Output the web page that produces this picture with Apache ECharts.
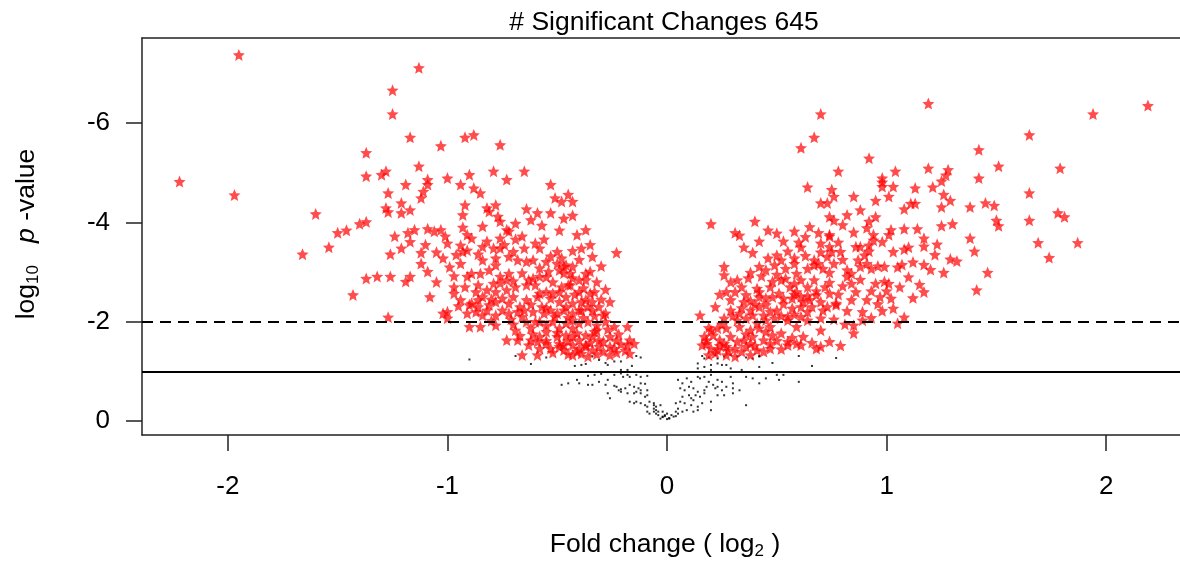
<!DOCTYPE html>
<html>
<head>
<meta charset="utf-8">
<script src="https://cdn.jsdelivr.net/npm/echarts@6/dist/echarts.min.js"></script>
<style>
html, body { margin: 0; padding: 0; background: #fff; }
#chart { width: 1180px; height: 563px; }
</style>
</head>
<body>
<div id="chart"></div>
<script>
// volcano plot: fold change (log2) vs log10 p-value
const titleText = '# Significant Changes 645';
const xTicks = [-2, -1, 0, 1, 2];
const yTicks = [-6, -4, -2, 0];
const dashedCut = -2;
const solidCut = -1;

// significant, negative fold change
const sigDown = [
  [-1.95,-7.37],[-1.25,-6.66],[-1.25,-6.18],[-1.37,-5.40],[-2.22,-4.82],[-1.37,-4.93],[-1.30,-4.96],[-1.28,-5.03],[-1.97,-4.55],[-1.27,-4.59],
  [-1.28,-4.29],[-1.27,-4.21],[-1.60,-4.17],[-1.40,-3.97],[-1.37,-4.01],[-1.50,-3.79],[-1.46,-3.84],[-1.24,-3.72],[-1.54,-3.50],[-1.66,-3.36],
  [-1.26,-3.36],[-1.37,-2.87],[-1.32,-2.91],[-1.26,-2.91],[-1.43,-2.54],[-1.27,-2.09],
  [-1.13,-7.11],[-1.17,-5.71],[-1.03,-5.54],[-0.92,-5.71],[-0.88,-5.76],[-0.76,-5.56],[-1.13,-5.13],[-1.19,-4.76],[-1.09,-4.86],[-1.09,-4.76],
  [-1.11,-4.62],[-1.12,-4.49],[-1.00,-4.89],[-0.94,-4.76],[-0.90,-4.96],[-0.88,-4.69],[-0.85,-4.59],[-0.79,-5.03],[-0.73,-4.86],[-0.65,-5.03],
  [-0.53,-4.76],[-0.51,-4.49],[-0.48,-4.42],[-0.45,-4.56],[-0.43,-4.42],[-1.21,-4.39],[-1.21,-4.19],[-1.17,-4.25],[-0.92,-4.35],[-0.93,-4.15],
  [-0.82,-4.29],[-0.81,-4.22],[-0.78,-4.35],[-0.77,-4.12],[-0.76,-4.02],[-0.64,-4.27],[-0.59,-4.19],[-0.53,-4.19],[-0.43,-4.14],[-0.57,-3.94],
  [-0.49,-3.84],[-0.41,-3.75],[-1.09,-3.87],[-1.06,-3.82],[-1.03,-3.85],[-0.93,-3.90],[-0.91,-3.75],[-1.18,-3.79],[-0.73,-3.85],[-0.72,-3.82],
  [-0.66,-3.72],[-0.76,-3.68],
  [-1.17,-3.61],[-1.00,-3.58],[-0.94,-3.54],[-0.93,-3.41],[-0.89,-3.68],[-0.84,-3.51],[-0.79,-3.48],[-0.76,-3.48],[-0.70,-3.41],[-0.65,-3.48],
  [-0.60,-3.58],[-0.58,-3.48],[-0.50,-3.41],[-0.43,-3.43],[-0.34,-3.31],[-0.23,-3.39],[-1.12,-3.39],[-1.21,-3.48],
  [-1.12,-3.17],[-1.02,-3.28],[-0.94,-3.17],[-0.91,-3.44],[-0.84,-3.24],[-0.78,-3.28],[-0.78,-3.14],[-0.72,-3.31],[-0.68,-3.24],[-0.64,-3.21],
  [-0.61,-3.24],[-0.55,-3.21],[-0.50,-3.17],[-0.46,-3.14],[-0.43,-3.11],[-0.37,-2.97],[-0.35,-3.01],[-1.09,-3.01],
  [-1.17,-2.91],[-1.19,-2.81],[-0.91,-2.91],[-0.89,-2.97],[-0.85,-2.97],[-0.81,-3.04],[-0.76,-2.91],[-0.73,-2.84],[-0.72,-2.97],[-0.63,-2.84],
  [-0.61,-2.87],[-0.58,-2.91],[-0.54,-3.01],[-0.49,-3.04],[-0.44,-2.97],[-0.40,-2.84],[-0.37,-2.84],[-0.47,-3.11],[-0.45,-2.74],
  [-0.97,-2.57],[-0.94,-2.44],[-0.87,-2.60],[-0.82,-2.64],[-0.78,-2.60],[-0.73,-2.64],[-0.69,-2.70],[-0.64,-2.74],[-0.60,-2.74],[-0.55,-2.60],
  [-0.52,-2.57],[-0.44,-2.74],[-0.40,-2.60],[-0.35,-2.57],[-0.33,-2.60],[-0.86,-2.74],[-0.79,-2.77],[-0.58,-2.57],[-0.49,-2.60],
  [-0.89,-2.37],[-0.86,-2.44],[-0.84,-2.50],[-0.78,-2.40],[-0.75,-2.47],[-0.72,-2.37],[-0.67,-2.30],[-0.64,-2.44],[-0.59,-2.50],[-0.53,-2.47],
  [-0.49,-2.40],[-0.43,-2.37],[-0.39,-2.40],[-0.37,-2.44],[-0.34,-2.40],[-0.90,-2.34],[-0.81,-2.34],[-0.57,-2.30],[-0.46,-2.30],[-0.40,-2.23],
  [-1.02,-2.17],[-1.00,-2.20],[-0.87,-2.20],[-0.84,-2.13],[-0.78,-2.13],[-0.75,-2.23],[-0.68,-2.20],[-0.65,-2.23],[-0.61,-2.20],[-0.56,-2.17],
  [-0.50,-2.17],[-0.47,-2.23],[-0.43,-2.17],[-0.39,-2.23],[-0.34,-2.23],[-0.29,-2.13],[-0.28,-2.17],[-1.00,-2.07],[-0.91,-2.17],[-0.82,-2.23],
  [-0.72,-2.17],[-0.53,-2.23],
  [-0.90,-1.90],[-0.85,-1.90],[-0.78,-1.93],[-0.69,-1.83],[-0.58,-2.00],[-0.55,-1.93],[-0.52,-2.00],[-0.46,-1.97],[-0.43,-2.03],[-0.40,-1.97],
  [-0.36,-2.00],[-0.32,-1.93],[-0.28,-2.00],[-0.24,-1.90],[-0.18,-1.90],[-0.32,-1.83],[-0.43,-1.87],[-0.49,-1.87],[-0.64,-2.00],[-0.60,-2.00],
  [-0.73,-1.63],[-0.68,-1.63],[-0.62,-1.63],[-0.58,-1.70],[-0.55,-1.56],[-0.50,-1.70],[-0.46,-1.73],[-0.43,-1.70],[-0.40,-1.63],[-0.37,-1.73],
  [-0.34,-1.70],[-0.31,-1.63],[-0.26,-1.70],[-0.23,-1.63],[-0.17,-1.63],[-0.15,-1.56],[-0.59,-1.60],[-0.49,-1.56],[-0.37,-1.53],
  [-0.63,-1.53],[-0.58,-1.46],[-0.53,-1.46],[-0.49,-1.50],[-0.47,-1.53],[-0.43,-1.53],[-0.40,-1.46],[-0.37,-1.50],[-0.34,-1.43],[-0.31,-1.50],
  [-0.26,-1.50],[-0.24,-1.46],[-0.18,-1.53],[-0.17,-1.36],[-0.43,-1.33],[-0.39,-1.36],[-0.66,-1.33],[-0.59,-1.33],[-0.26,-1.33],[-0.36,-1.30],
  [-0.47,-1.43],
  [-0.55,-2.90],[-0.52,-2.80],[-0.48,-2.70],[-0.46,-2.50],[-0.42,-2.55],[-0.38,-2.68],[-0.36,-2.30],[-0.31,-2.30],[-0.30,-2.45],[-0.33,-2.12],
  [-0.38,-2.08],[-0.45,-2.08],[-0.51,-2.10],[-0.55,-2.28],[-0.62,-2.35],[-0.70,-2.50],[-0.66,-2.10],[-0.70,-1.95],[-0.62,-1.87],[-0.55,-1.80],
  [-0.50,-1.78],[-0.45,-1.62],[-0.41,-1.77],[-0.35,-1.58],[-0.33,-1.80],[-0.29,-1.60],[-0.27,-1.85],[-0.22,-1.75],[-0.21,-1.55],[-0.19,-1.42],
  [-0.23,-1.38],[-0.29,-1.40],[-0.32,-1.35],[-0.41,-1.40],[-0.45,-1.35],[-0.52,-1.38],[-0.55,-1.62],[-0.61,-1.75],[-0.67,-1.72],[-0.71,-2.05],
  [-0.80,-2.02],[-0.86,-2.30],[-0.95,-2.32],[-0.97,-2.70],[-1.05,-2.80],[-1.08,-2.50],[-0.99,-3.10],[-1.05,-3.40],[-0.96,-3.35],[-0.86,-3.36],
  [-0.82,-3.62],[-0.74,-3.55],[-0.69,-3.66],[-0.56,-3.66],[-0.53,-3.32],[-0.48,-3.28],[-0.40,-3.25],[-0.39,-3.48],[-0.30,-3.12],[-0.32,-2.80],
  [-0.28,-2.65],[-0.26,-2.40],[-0.43,-2.88],[-0.47,-2.98],[-0.58,-3.08],[-0.66,-2.98],[-0.70,-2.82],[-0.76,-2.78],[-0.80,-2.45],[-0.92,-2.70],
  [-0.97,-2.92],[-1.10,-3.55],[-1.15,-3.85],[-1.01,-3.72],[-0.84,-3.92],[-0.69,-3.98],[-0.62,-4.05],[-0.47,-4.08],[-0.35,-3.55],[-0.37,-3.85]
];

// significant, positive fold change
const sigUp = [
  [0.70,-6.18],[0.67,-5.71],[0.61,-5.50],[0.92,-5.29],[0.78,-5.03],[1.04,-5.03],[0.98,-4.89],[0.98,-4.81],[0.98,-4.72],[1.03,-4.72],
  [0.64,-4.71],[0.75,-4.66],[0.76,-4.52],[0.85,-4.52],[1.01,-4.52],[0.95,-4.44],[1.13,-4.69],[0.70,-4.39],[0.73,-4.39],[1.08,-4.27],
  [1.11,-4.38],[1.13,-4.38],[0.74,-4.11],[0.76,-4.04],[0.95,-4.11],[0.92,-4.02],[0.91,-3.89],[0.20,-3.97],[0.40,-4.02],[0.46,-3.84],
  [0.31,-3.79],[0.33,-3.74],[0.58,-3.82],[0.65,-3.91],[0.69,-3.79],[0.74,-3.75],[0.74,-3.72],[1.01,-3.75],[1.08,-3.87],[1.14,-3.87],
  [0.94,-3.75],[0.63,-3.71],
  [1.19,-6.39],[1.94,-6.18],[2.19,-6.35],[1.65,-5.76],[1.42,-5.46],[1.19,-5.09],[1.28,-5.06],[1.27,-4.95],[1.25,-4.83],[1.51,-5.13],
  [1.79,-5.09],[1.42,-4.89],[1.21,-4.71],[1.26,-4.56],[1.29,-4.44],[1.25,-4.31],[1.38,-4.31],[1.45,-4.39],[1.49,-4.34],[1.65,-4.59],
  [1.78,-4.19],[1.81,-4.11],[1.50,-4.04],[1.51,-3.93],[1.65,-4.04],[1.25,-3.93],[1.30,-3.97],[1.38,-3.68],
  [1.17,-3.68],[1.17,-3.52],[1.23,-3.56],[1.40,-3.42],[1.69,-3.59],[1.87,-3.59],[1.74,-3.29],[1.29,-3.26],[1.32,-3.22],[1.17,-3.15],
  [1.26,-2.99],[1.46,-2.99],[1.17,-2.60],[1.41,-2.64],
  [0.53,-3.62],[0.61,-3.50],[0.70,-3.58],[0.74,-3.51],[0.75,-3.41],[0.79,-3.41],[0.86,-3.51],[0.88,-3.51],[0.92,-3.54],[0.94,-3.64],
  [0.98,-3.61],[1.03,-3.41],[1.08,-3.46],
  [0.39,-3.39],[0.50,-3.34],[0.52,-3.24],[0.58,-3.28],[0.58,-3.17],[0.67,-3.24],[0.69,-3.17],[0.73,-3.31],[0.76,-3.17],[0.87,-3.24],
  [0.90,-3.34],[0.91,-3.17],[1.07,-3.15],
  [0.26,-3.11],[0.26,-2.94],[0.38,-2.99],[0.42,-3.11],[0.45,-3.04],[0.49,-3.14],[0.54,-3.07],[0.59,-2.97],[0.64,-3.07],[0.67,-3.14],
  [0.71,-3.07],[0.74,-2.99],[0.82,-3.04],[0.84,-2.97],[0.88,-3.11],[0.93,-3.07],[0.96,-3.12],[0.99,-3.11],[0.32,-2.84],
  [0.48,-2.81],[0.52,-2.84],[0.54,-2.87],[0.58,-2.77],[0.61,-2.84],[0.64,-2.70],[0.67,-2.84],[0.74,-2.79],[0.82,-2.91],[0.84,-2.77],
  [0.95,-2.77],[0.99,-2.81],[1.01,-2.77],[0.47,-2.70],[0.41,-2.67],
  [0.31,-2.60],[0.36,-2.54],[0.42,-2.60],[0.51,-2.57],[0.53,-2.47],[0.59,-2.60],[0.61,-2.50],[0.68,-2.54],[0.74,-2.57],[0.77,-2.37],
  [0.84,-2.44],[0.91,-2.44],[0.97,-2.50],[1.02,-2.47],[0.29,-2.44],[0.35,-2.40],[0.42,-2.50],[0.45,-2.47],[0.57,-2.47],[0.65,-2.44],
  [0.33,-2.17],[0.38,-2.23],[0.42,-2.30],[0.45,-2.34],[0.50,-2.23],[0.57,-2.27],[0.61,-2.30],[0.64,-2.20],[0.71,-2.23],[0.73,-2.30],
  [0.77,-2.34],[0.89,-2.20],[1.03,-2.27],[0.29,-2.23],[0.39,-2.13],[0.44,-2.13],[0.55,-2.10],[0.61,-2.10],
  [0.15,-2.13],[0.26,-2.07],[0.32,-2.03],[0.36,-2.07],[0.41,-1.97],[0.45,-2.03],[0.49,-2.07],[0.55,-2.03],[0.59,-1.90],[0.64,-2.03],
  [0.70,-2.07],[0.85,-1.93],[0.89,-2.03],[1.05,-1.97],[1.08,-2.09],[0.20,-1.83],[0.23,-1.87],[0.27,-1.87],[0.33,-1.90],[0.38,-1.83],
  [0.42,-1.87],[0.47,-1.90],
  [0.17,-1.70],[0.21,-1.73],[0.24,-1.63],[0.29,-1.70],[0.35,-1.63],[0.39,-1.70],[0.44,-1.63],[0.48,-1.73],[0.52,-1.77],[0.55,-1.60],
  [0.59,-1.56],[0.70,-1.83],[0.85,-1.77],[0.18,-1.56],[0.26,-1.56],[0.32,-1.60],[0.38,-1.56],[0.47,-1.56],
  [0.16,-1.53],[0.20,-1.46],[0.23,-1.43],[0.27,-1.50],[0.31,-1.46],[0.36,-1.50],[0.41,-1.43],[0.47,-1.46],[0.55,-1.53],[0.61,-1.53],
  [0.68,-1.46],[0.70,-1.50],[0.19,-1.33],[0.27,-1.33],[0.38,-1.33],[0.31,-1.30],
  [0.22,-1.37],[0.24,-1.52],[0.28,-1.42],[0.34,-1.40],[0.36,-1.75],[0.40,-1.52],[0.44,-1.40],[0.45,-1.80],[0.50,-1.62],[0.52,-1.45],
  [0.57,-1.68],[0.62,-1.70],[0.66,-1.58],[0.74,-1.60],[0.79,-1.52],[0.18,-1.63],[0.19,-1.88],[0.25,-1.95],[0.30,-2.12],[0.34,-2.28],
  [0.38,-2.42],[0.40,-2.35],[0.47,-2.20],[0.52,-2.12],[0.53,-2.36],[0.58,-2.15],[0.62,-2.40],[0.66,-2.30],[0.68,-2.62],[0.70,-2.40],
  [0.72,-2.70],[0.78,-2.55],[0.80,-2.72],[0.82,-2.22],[0.86,-2.60],[0.88,-2.85],[0.93,-2.62],[0.96,-2.36],[1.00,-2.62],[1.06,-2.70],
  [1.10,-2.90],[1.12,-3.20],[1.10,-3.50],[1.05,-3.10],[0.92,-3.42],[0.80,-3.25],[0.78,-3.60],[0.70,-3.40],[0.63,-3.33],[0.55,-3.42],
  [0.46,-3.28],[0.43,-2.92],[0.50,-2.95],[0.56,-2.70],[0.34,-2.70],[0.37,-2.88],[0.29,-2.80],[0.24,-2.55],[0.22,-2.30],[0.27,-2.60],
  [0.48,-2.50],[0.58,-2.55],[0.64,-2.52],[0.76,-2.05],[0.81,-1.95],[0.93,-2.08],[0.98,-2.22],[1.12,-2.48],[1.15,-2.75],[1.20,-3.05],
  [1.22,-3.35],[1.02,-3.85],[0.85,-3.80],[0.80,-3.95],[0.60,-3.60],[0.50,-3.78],[0.35,-3.50],[0.42,-3.62],[0.88,-4.25],[0.82,-4.15]
];

// not significant
const notSig = [
  [-0.90,-1.24],[-0.69,-1.31],[-0.62,-1.15],[-0.55,-1.28],[-0.42,-1.11],[-0.39,-1.13],[-0.37,-1.15],[-0.34,-1.30],[-0.31,-1.23],[-0.28,-1.17],
  [-0.27,-1.13],[-0.24,-1.20],[-0.21,-1.20],[-0.21,-1.03],[-0.18,-1.03],[-0.16,-1.11],[-0.14,-1.31],[-0.12,-1.28],[-0.36,-0.91],[-0.33,-0.93],
  [-0.30,-0.95],[-0.27,-0.83],[-0.24,-0.93],[-0.21,-0.96],[-0.20,-0.89],[-0.18,-0.93],[-0.17,-0.89],[-0.14,-0.93],[-0.12,-0.89],[-0.09,-0.91],
  [-0.48,-0.73],[-0.45,-0.76],[-0.41,-0.83],[-0.40,-0.76],[-0.36,-0.73],[-0.34,-0.73],[-0.31,-0.79],[-0.28,-0.73],[-0.24,-0.71],[-0.23,-0.69],
  [-0.22,-0.62],[-0.21,-0.59],[-0.21,-0.64],[-0.19,-0.66],[-0.17,-0.73],[-0.15,-0.69],[-0.13,-0.66],[-0.12,-0.76],[-0.10,-0.75],[-0.12,-0.62],
  [-0.09,-0.62],[-0.27,-0.56],[-0.26,-0.46],[-0.18,-0.56],[-0.15,-0.56],[-0.14,-0.59],[-0.12,-0.56],[-0.10,-0.49],[-0.09,-0.52],[-0.17,-0.39],
  [-0.15,-0.36],[-0.14,-0.39],[-0.12,-0.36],[-0.10,-0.32],[-0.09,-0.29],[-0.08,-0.39],[-0.06,-0.32],[-0.06,-0.36],[-0.05,-0.29],[-0.09,-0.19],
  [-0.08,-0.15],[-0.06,-0.19],[-0.05,-0.15],[-0.04,-0.19],
  [0.16,-1.31],[0.17,-1.26],[0.19,-1.28],[0.22,-1.33],[0.23,-1.26],[0.26,-1.30],[0.29,-1.33],[0.32,-1.30],[0.36,-1.28],[0.39,-1.26],
  [0.42,-1.30],[0.42,-1.31],[0.60,-1.31],[0.77,-1.27],[0.14,-1.16],[0.14,-1.06],[0.17,-1.09],[0.20,-1.03],[0.20,-1.13],[0.23,-1.16],
  [0.25,-1.13],[0.27,-1.13],[0.29,-1.06],[0.34,-1.03],[0.42,-1.09],[0.48,-1.17],[0.66,-1.11],[0.05,-0.83],[0.07,-0.76],[0.09,-0.86],
  [0.11,-0.79],[0.14,-0.89],[0.15,-0.86],[0.17,-0.89],[0.20,-0.93],[0.19,-0.79],[0.21,-0.73],[0.23,-0.83],[0.25,-0.79],[0.29,-0.89],
  [0.30,-0.76],[0.36,-0.89],[0.39,-0.86],[0.42,-0.76],[0.45,-0.86],[0.50,-0.93],[0.53,-0.93],[0.51,-0.83],[0.60,-0.79],[0.06,-0.66],
  [0.08,-0.62],[0.10,-0.69],[0.12,-0.66],[0.14,-0.59],[0.17,-0.62],[0.18,-0.69],[0.22,-0.66],[0.23,-0.69],[0.25,-0.62],[0.27,-0.69],
  [0.30,-0.66],[0.33,-0.62],[0.07,-0.49],[0.10,-0.52],[0.11,-0.46],[0.13,-0.52],[0.15,-0.49],[0.17,-0.56],[0.23,-0.52],[0.26,-0.52],
  [0.30,-0.56],[0.04,-0.36],[0.06,-0.39],[0.08,-0.36],[0.11,-0.32],[0.12,-0.42],[0.14,-0.29],[0.16,-0.36],[0.20,-0.39],[0.36,-0.32],
  [-0.03,-0.32],[-0.02,-0.19],[-0.01,-0.12],[0.01,-0.05],[0.03,-0.09],[0.04,-0.19],[0.05,-0.15],[0.07,-0.19],[0.09,-0.22],[0.12,-0.19],
  [0.14,-0.22],[0.20,-0.22],[-0.02,-0.09],[-0.03,-0.05],[-0.02,-0.08],[0.00,-0.04],[0.01,-0.06],[-0.01,-0.10],[0.02,-0.12],[-0.04,-0.12],
  [0.04,-0.10],[-0.05,-0.22],[0.00,-0.15],[-0.06,-0.25],[0.05,-0.25]
];

const starPath = 'path://M10 0L12.65 6.36L19.51 6.91L14.28 11.39L15.88 18.09L10 14.5L4.12 18.09L5.72 11.39L0.49 6.91L7.35 6.36Z';
const font = '"Liberation Sans", Arial, sans-serif';
const frame = { show: true, onZero: false, lineStyle: { color: '#222', width: 1.5 } };

const chart = echarts.init(document.getElementById('chart'));

chart.setOption({
  animation: false,
  textStyle: { fontFamily: font },
  grid: { left: 142, right: 0, top: 38, height: 397, show: false },
  xAxis: [
    {
      type: 'value', min: -2.391, max: 2.336,
      splitLine: { show: false },
      axisLine: frame,
      axisTick: { show: true, customValues: xTicks, length: 16, lineStyle: { color: '#222', width: 1.5 } },
      axisLabel: { customValues: xTicks, fontSize: 26, color: '#000', margin: 39, fontFamily: font }
    },
    {
      type: 'value', position: 'top', min: -2.391, max: 2.336,
      splitLine: { show: false }, axisTick: { show: false }, axisLabel: { show: false },
      axisLine: frame
    }
  ],
  yAxis: {
    type: 'value', inverse: true, min: -7.71, max: 0.28,
    splitLine: { show: false },
    axisLine: frame,
    axisTick: { show: true, customValues: yTicks, length: 16, lineStyle: { color: '#222', width: 1.5 } },
    axisLabel: { customValues: yTicks, fontSize: 26, color: '#000', margin: 32, fontFamily: font }
  },
  graphic: [
    { type: 'text', x: 664, y: 23, style: { text: titleText, font: '26.5px ' + font, fill: '#000', align: 'center', verticalAlign: 'middle' } },
    { type: 'text', x: 665, y: 545, style: {
      text: 'Fold change ( log{sub|2} )', fontSize: 26.5, fontFamily: font, fill: '#000', align: 'center', verticalAlign: 'middle',
      lineHeight: 30, rich: { sub: { fontSize: 17, lineHeight: 17, verticalAlign: 'bottom', fontFamily: font } }
    } },
    { type: 'text', x: 27, y: 234, rotation: Math.PI / 2, style: {
      text: 'log{sub|10}   {it|p} -value', fontSize: 26.5, fontFamily: font, fill: '#000', align: 'center', verticalAlign: 'middle',
      lineHeight: 30, rich: {
        sub: { fontSize: 17, lineHeight: 17, verticalAlign: 'bottom', fontFamily: font },
        it: { fontSize: 26.5, fontStyle: 'italic', fontFamily: font }
      }
    } }
  ],
  series: [
    {
      type: 'scatter', data: notSig, symbol: 'rect', symbolSize: 2,
      itemStyle: { color: '#000' }, silent: true,
      markLine: {
        silent: true, symbol: ['none', 'none'], label: { show: false },
        lineStyle: { color: '#000', width: 1.8 },
        data: [
          { yAxis: dashedCut, lineStyle: { type: [11, 7] } },
          { yAxis: solidCut, lineStyle: { type: 'solid' } }
        ]
      }
    },
    {
      type: 'scatter', data: sigDown.concat(sigUp), symbol: starPath, symbolSize: 12,
      itemStyle: { color: 'rgba(255,0,0,0.88)' }, silent: true
    }
  ]
});
</script>
</body>
</html>
